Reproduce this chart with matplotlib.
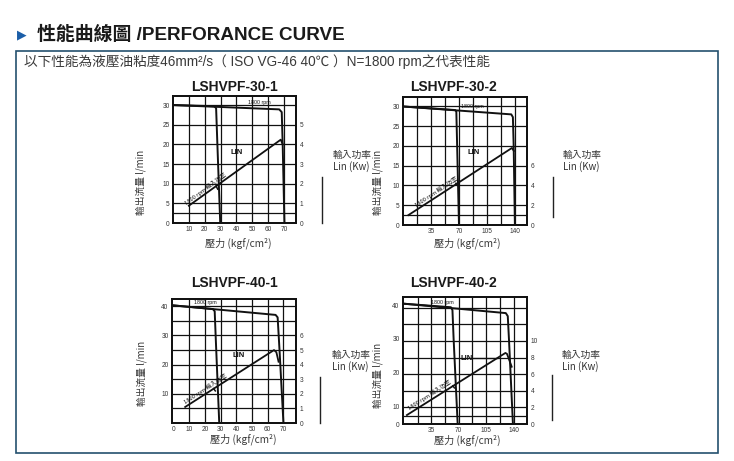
import math
import matplotlib
matplotlib.use('Agg')
import matplotlib.pyplot as plt
from matplotlib.patches import Rectangle
import numpy as np

W, H = 734, 461
CJK = ['Noto Sans CJK TC', 'DejaVu Sans']
MIX = ['Liberation Sans', 'Noto Sans CJK TC', 'DejaVu Sans']
LAT = ['Liberation Sans', 'DejaVu Sans']
plt.rcParams['font.family'] = CJK

# ---------------- data ----------------
header = '性能曲線圖 /PERFORANCE CURVE'
subtitle = '以下性能為液壓油粘度46mm²/s（ ISO VG-46 40℃ ）N=1800 rpm之代表性能'
xlabel = '壓力 (kgf/cm²)'
ylabel = '輸出流量 l/min'
rlabel = '輸入功率\nLin (Kw)'
pow_label = '1800 rpm 輸入功率'
rpm_label = '1800 rpm'
lin_label = 'LIN'
titles = ['LSHVPF-30-1', 'LSHVPF-30-2', 'LSHVPF-40-1', 'LSHVPF-40-2']

# chart 1 : LSHVPF-30-1
c1_xticks = [10, 20, 30, 40, 50, 60, 70]
c1_xgrid = [10, 20, 30, 40, 50, 60, 70]
c1_yticks = [0, 5, 10, 15, 20, 25, 30]
c1_ygrid = [2.5, 5, 10, 15, 20, 25, 30]
c1_rticks = [0, 1, 2, 3, 4, 5]
c1_flowA_p = [0, 26, 27.2, 28.0, 29.8]
c1_flowA_q = [30, 29.7, 29.2, 20, 0]
c1_flowB_p = [0, 67, 68.6, 69.2, 70.3]
c1_flowB_q = [30, 28.9, 28.2, 20, 0]
c1_pow_p = [10, 68, 69.2]
c1_pow_kw = [0.88, 4.24, 4.0]
c1_spur_p = [27.2, 28.2]
c1_spur_kw = [1.88, 1.72]

# chart 2 : LSHVPF-30-2
c2_xticks = [35, 70, 105, 140]
c2_xgrid = [17.5, 35, 52.5, 70, 87.5, 105, 122.5, 140]
c2_yticks = [0, 5, 10, 15, 20, 25, 30]
c2_ygrid = [2.5, 5, 10, 15, 20, 25, 30]
c2_rticks = [0, 2, 4, 6]
c2_flowA_p = [0, 65, 66.5, 67.5, 69.8]
c2_flowA_q = [30, 29.1, 28.7, 20, 0]
c2_flowB_p = [0, 135, 137, 138, 139.5]
c2_flowB_q = [30, 28.0, 27.3, 20, 0]
c2_pow_p = [6.7, 135.8, 138.2]
c2_pow_kw = [1.0, 7.8, 7.5]
c2_spur_p = [66, 68]
c2_spur_kw = [4.22, 4.05]

# chart 3 : LSHVPF-40-1
c3_xticks = [0, 10, 20, 30, 40, 50, 60, 70]
c3_xgrid = [10, 20, 30, 40, 50, 60, 70]
c3_yticks = [10, 20, 30, 40]
c3_ygrid = [5, 10, 15, 20, 25, 30, 35, 40]
c3_rticks = [0, 1, 2, 3, 4, 5, 6]
c3_flowA_p = [0, 25, 26.2, 26.8, 29.1]
c3_flowA_q = [40.3, 39.05, 38.3, 30, 0]
c3_flowB_p = [0, 65, 66.3, 67.5, 70]
c3_flowB_q = [40.3, 37.05, 36.2, 25, 0]
c3_pow_p = [7.4, 64, 65.5, 66.9]
c3_pow_kw = [1.1, 5.0, 4.85, 4.2]
c3_spur_p = [25.5, 26.6]
c3_spur_kw = [2.36, 2.2]

# chart 4 : LSHVPF-40-2
c4_xticks = [35, 70, 105, 140]
c4_xgrid = [17.5, 35, 52.5, 70, 87.5, 105, 122.5, 140]
c4_yticks = [4.65, 10, 20, 30, 40]
c4_ytlabels = ['0', '10', '20', '30', '40']
c4_rgrid = [1, 2, 4, 6, 8, 10, 12, 14]
c4_rticks = [0, 2, 4, 6, 8, 10]
c4_flowA_p = [0, 60, 62, 63.5, 69.6]
c4_flowA_q = [40.5, 39.45, 38.6, 30, 0]
c4_flowB_p = [0, 130, 132.5, 134, 140]
c4_flowB_q = [40.5, 37.7, 36.8, 30, 0]
c4_pow_p = [4, 129.5, 131.5, 137.5]
c4_pow_kw = [1.08, 8.56, 8.45, 6.9]
c4_spur_p = [62.5, 64.5]
c4_spur_kw = [4.6, 4.35]
c4_lead_p = [88, 119]
c4_lead_kw = [7.95, 7.95]

charts = [
    dict(title=titles[0], frame=(173, 96, 296, 223), xlim=(0, 77.6), ylim=(0, 32.3), rlim=(0, 6.46),
         xticks=c1_xticks, xgrid=c1_xgrid, yticks=c1_yticks, ytl=None, ygrid=c1_ygrid, rgrid=None,
         rticks=c1_rticks, fA=(c1_flowA_p, c1_flowA_q), fB=(c1_flowB_p, c1_flowB_q),
         pw=(c1_pow_p, c1_pow_kw), spur=(c1_spur_p, c1_spur_kw), lead=None,
         powx=22, lin=(40, 3.6), rpm=(54.8, 30.6),
         tpos=(235, 87), ylpos=(141, 182), rlpos=(333, 161), rline=(322, 177, 223), xlpos=(238, 243)),
    dict(title=titles[1], frame=(403, 97, 527, 225), xlim=(0, 154.6), ylim=(0, 32.4), rlim=(0, 12.96),
         xticks=c2_xticks, xgrid=c2_xgrid, yticks=c2_yticks, ytl=None, ygrid=c2_ygrid, rgrid=None,
         rticks=c2_rticks, fA=(c2_flowA_p, c2_flowA_q), fB=(c2_flowB_p, c2_flowB_q),
         pw=(c2_pow_p, c2_pow_kw), spur=(c2_spur_p, c2_spur_kw), lead=None,
         powx=44, lin=(88, 7.36), rpm=(86, 30.0),
         tpos=(453, 87), ylpos=(378, 182), rlpos=(563, 161), rline=(553, 177, 217), xlpos=(467, 243)),
    dict(title=titles[2], frame=(172, 299, 296, 423), xlim=(-1, 78), ylim=(0, 42.5), rlim=(0, 8.5),
         xticks=c3_xticks, xgrid=c3_xgrid, yticks=c3_yticks, ytl=None, ygrid=c3_ygrid, rgrid=None,
         rticks=c3_rticks, fA=(c3_flowA_p, c3_flowA_q), fB=(c3_flowB_p, c3_flowB_q),
         pw=(c3_pow_p, c3_pow_kw), spur=(c3_spur_p, c3_spur_kw), lead=None,
         powx=22, lin=(41.5, 4.6), rpm=(20.2, 41.2),
         tpos=(235, 283), ylpos=(142, 373), rlpos=(332, 361), rline=(320, 377, 423), xlpos=(243, 439)),
    dict(title=titles[3], frame=(403, 297, 527, 424), xlim=(-1, 157), ylim=(4.65, 42.5), rlim=(0, 15.3),
         xticks=c4_xticks, xgrid=c4_xgrid, yticks=c4_yticks, ytl=c4_ytlabels, ygrid=None, rgrid=c4_rgrid,
         rticks=c4_rticks, fA=(c4_flowA_p, c4_flowA_q), fB=(c4_flowB_p, c4_flowB_q),
         pw=(c4_pow_p, c4_pow_kw), spur=(c4_spur_p, c4_spur_kw), lead=(c4_lead_p, c4_lead_kw),
         powx=36, lin=(80.5, 7.95), rpm=(48.6, 40.9),
         tpos=(453, 283), ylpos=(378, 375), rlpos=(562, 361), rline=(552, 375, 420), xlpos=(467, 440)),
]

# ---------------- figure ----------------
fig = plt.figure(figsize=(W / 100, H / 100), dpi=100)
fig.patch.set_facecolor('white')


def fx(x):
    return x / W


def fy(y):
    return 1 - y / H


# header
fig.text(fx(17), fy(34.5), '▶', color='#1b5ea8', fontsize=9, family=['DejaVu Sans'],
         ha='left', va='center')
fig.text(fx(37), fy(35), header, color='#1a1a1a', fontsize=13.6, fontweight='bold',
         family=MIX, ha='left', va='center')
fig.text(fx(24), fy(62), subtitle, color='#3a3a3a', fontsize=9.85, family=MIX,
         ha='left', va='center')
fig.patches.append(Rectangle((fx(16), fy(453)), fx(718) - fx(16), fy(51) - fy(453),
                             transform=fig.transFigure, fill=False, edgecolor='#24506e', lw=1.2))

INK = '#111111'
TK = '#333333'

for c in charts:
    l, t, r, b = c['frame']
    ax = fig.add_axes([fx(l), fy(b), fx(r) - fx(l), fy(t) - fy(b)])
    ax2 = ax.twinx()
    ax.set_xlim(*c['xlim'])
    ax.set_ylim(*c['ylim'])
    ax2.set_ylim(*c['rlim'])
    for a in (ax, ax2):
        for s in a.spines.values():
            s.set_linewidth(1.3)
            s.set_color(INK)
        a.tick_params(length=0, labelsize=4.7, colors=TK, pad=2.5)
    ax.set_xticks(c['xticks'])
    ax.set_xticklabels([str(v) for v in c['xticks']], family=LAT)
    ax.set_yticks(c['yticks'])
    ax.set_yticklabels(c['ytl'] if c['ytl'] else [str(v) for v in c['yticks']], family=LAT)
    ax2.set_yticks(c['rticks'])
    ax2.set_yticklabels([str(v) for v in c['rticks']], family=LAT)

    # grid
    ax.vlines(c['xgrid'], c['ylim'][0], c['ylim'][1], color=INK, lw=0.9, zorder=1)
    if c['ygrid']:
        ax.hlines(c['ygrid'], c['xlim'][0], c['xlim'][1], color=INK, lw=0.9, zorder=1)
    if c['rgrid']:
        ax2.hlines(c['rgrid'], c['xlim'][0], c['xlim'][1], color=INK, lw=0.9, zorder=1)

    # flow curves
    ax.plot(*c['fA'], color=INK, lw=1.4, solid_joinstyle='round', zorder=3)
    ax.plot(*c['fB'], color=INK, lw=1.4, solid_joinstyle='round', zorder=3)
    # power curve
    pp, pk = c['pw']
    ax2.plot(pp, pk, color=INK, lw=1.3, solid_joinstyle='round', zorder=3)
    ax2.plot(*c['spur'], color=INK, lw=1.1, zorder=3)
    if c['lead']:
        ax2.plot(*c['lead'], color=INK, lw=0.9, zorder=3)

    # rotated power label
    p1 = ax2.transData.transform((pp[0], pk[0]))
    p2 = ax2.transData.transform((pp[1], pk[1]))
    ang = math.degrees(math.atan2(p2[1] - p1[1], p2[0] - p1[0]))
    xc = c['powx']
    yc = float(np.interp(xc, pp, pk))
    off = 3.2
    ax2.annotate(pow_label, (xc, yc), xytext=(-math.sin(math.radians(ang)) * off,
                                              math.cos(math.radians(ang)) * off),
                 textcoords='offset points', rotation=ang, rotation_mode='anchor',
                 ha='center', va='center', fontsize=4.2, color=INK, family=CJK, zorder=4)
    ax2.text(c['lin'][0], c['lin'][1], lin_label, fontsize=5.5, fontweight='bold',
             family=LAT, ha='center', va='center', color=INK, zorder=4)
    ax.text(c['rpm'][0], c['rpm'][1], rpm_label, fontsize=3.8, family=LAT,
            ha='center', va='center', color=INK, zorder=4)

    # surrounding texts
    fig.text(fx(c['tpos'][0]), fy(c['tpos'][1]), c['title'], fontsize=10, fontweight='bold',
             family=LAT, ha='center', va='center', color='#1a1a1a')
    fig.text(fx(c['ylpos'][0]), fy(c['ylpos'][1]), ylabel, fontsize=7.0, rotation=90,
             family=CJK, ha='center', va='center', color='#3a3a3a')
    fig.text(fx(c['rlpos'][0]), fy(c['rlpos'][1]), rlabel, fontsize=7, family=CJK,
             ha='left', va='center', color='#333333', linespacing=1.1)
    xl, yt, yb = c['rline']
    fig.add_artist(plt.Line2D([fx(xl), fx(xl)], [fy(yt), fy(yb)], color='#222222', lw=1.0))
    fig.text(fx(c['xlpos'][0]), fy(c['xlpos'][1]), xlabel, fontsize=7.3, family=CJK,
             ha='center', va='center', color='#3a3a3a')

fig.savefig('out.png', dpi=100)
